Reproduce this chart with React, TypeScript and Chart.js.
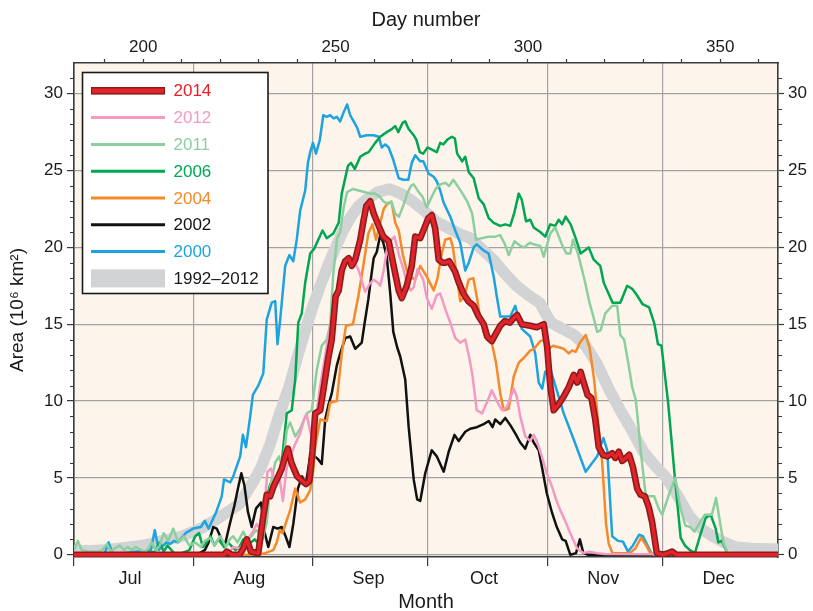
import React, { useEffect, useRef } from 'react';
import { Chart, registerables } from 'chart.js';

Chart.register(...registerables);

const FONT = '"Liberation Sans", Arial, Helvetica, sans-serif';
const INK = '#1a1a1a';
const AXIS = '#3a3a3a';
const GRID = '#a2a2a2';
const PLOT_BG = '#fdf5eb';

const RED = '#e3232a';
const RED_EDGE = '#8a1c1c';
const PINK = '#f49ac2';
const MINT = '#8ccf9f';
const GREEN = '#00a651';
const ORANGE = '#f6892a';
const BLACK = '#111111';
const BLUE = '#1ca3e0';
const BAND = '#d1d3d5';

const X_MIN = 182;
const X_MAX = 365;
const Y_MIN = -0.15;
const Y_MAX = 32;

const MONTH_STARTS = [182, 213, 244, 274, 305, 335];
const MONTH_LABELS = ['Jul', 'Aug', 'Sep', 'Oct', 'Nov', 'Dec'];
const DAY_TICKS = [190, 200, 210, 220, 230, 240, 250, 260, 270, 280, 290, 300, 310, 320, 330, 340, 350, 360];
const DAY_LABELS = [200, 250, 300, 350];
const AREA_TICKS = [0, 5, 10, 15, 20, 25, 30];
const AREA_MINOR = [1, 2, 3, 4, 6, 7, 8, 9, 11, 12, 13, 14, 16, 17, 18, 19, 21, 22, 23, 24, 26, 27, 28, 29, 31];

type P = [number, number];

// [day number, area (10^6 km^2)]
const Y2014: P[] = [[182,0],[221,0],[221.7,0.2],[223,0],[225,0],[226,0.4],[226.9,1.0],[228,0.2],[229.9,0.1],[231.2,2.5],[232.1,3.9],[233,3.8],[233.8,4.4],[235.1,5.1],[236,5.6],[236.8,6.3],[237.6,6.9],[238.5,6.0],[239.3,5.5],[240,5.1],[241.3,4.8],[242.3,4.6],[243.2,4.8],[244,6.8],[244.7,9.2],[246,9.4],[247,11.0],[248.1,12.8],[249,14.0],[250,16.8],[250.8,17.2],[251.6,18.5],[252.5,19.1],[253.4,19.3],[254.2,18.8],[255.1,19.2],[256.4,20.5],[257.3,21.8],[258,22.7],[259,23.0],[259.9,22.2],[261.2,21.4],[262.4,20.7],[263.8,20.4],[264.6,19.4],[265.5,18.3],[266.4,17.2],[267.2,16.7],[268.5,17.5],[269.8,18.8],[270.7,20.7],[272,20.6],[273.3,21.4],[274.1,21.9],[275,22.1],[275.9,21.2],[276.8,19.2],[277.8,19.0],[278.5,19.0],[279.5,19.1],[281.1,18.4],[281.9,17.8],[283.2,17.0],[284.5,16.5],[285.9,16.2],[287.2,15.5],[288.5,15.0],[289.4,14.2],[290.6,13.9],[291.7,14.4],[292.8,14.9],[294,15.2],[295.3,15.1],[296.3,15.4],[297.2,15.6],[298.4,15.0],[300.6,14.9],[302.3,14.8],[304.1,15.0],[305,13.5],[305.8,11.0],[306.7,9.4],[308,9.8],[309.3,10.3],[310.6,10.9],[311.9,11.7],[312.8,11.2],[313.7,11.9],[314.5,11.2],[315.5,10.4],[316.5,10.2],[317.5,8.8],[318.4,7.0],[319.5,6.5],[320.6,6.4],[321.9,6.6],[322.7,6.3],[323.6,6.7],[324.5,6.1],[325.5,6.3],[326.3,6.5],[327.3,5.7],[328.4,4.3],[329.3,3.9],[330.4,3.8],[331.4,3.1],[332.3,2.1],[333.5,0.1],[335,0],[336.5,0.1],[337.5,0.2],[338.5,0],[365,0]];

const Y2012: P[] = [[182,0],[222,0],[223.4,0.5],[225,0.4],[226.5,0.8],[228.5,1.5],[229.5,2.0],[230.5,1.6],[231.3,2.6],[232.3,5.4],[233.2,5.6],[234.4,4.7],[235.4,5.0],[236.3,3.5],[237.2,5.5],[238.2,6.4],[239.5,7.2],[240.8,7.9],[241.8,8.8],[242.5,9.1],[243.5,7.9],[244.3,7.5],[245.2,9.5],[246,11.0],[247,12.5],[248.1,14.2],[249.4,15.9],[250.5,17.0],[251.6,18.5],[252.8,19.0],[254.2,19.3],[255.2,18.9],[256,18.5],[257.7,17.1],[258.8,17.6],[259.9,17.9],[261,17.7],[261.6,17.5],[262.5,18.5],[263.3,19.8],[264.2,20.4],[265.3,20.7],[266.5,19.5],[267.6,18.6],[268.6,17.6],[269.5,17.2],[270.3,17.4],[271.3,18.6],[272.8,17.9],[273.7,16.7],[275,16.0],[276.3,16.9],[277.2,17.0],[278.5,16.0],[279.8,15.1],[281.1,14.1],[282.4,13.8],[283.7,14.0],[284.6,13.0],[285.5,11.8],[286.7,9.4],[288.1,9.2],[289.5,10.0],[290.6,10.7],[291.9,10.0],[293.3,9.4],[294.5,9.6],[296.3,10.8],[297.1,10.3],[298,9.0],[299.3,7.7],[300.6,7.4],[301.5,7.8],[302.3,7.4],[303.6,6.4],[304.9,5.3],[306.3,4.4],[307.3,3.6],[308.4,2.9],[309.5,2.3],[311,1.4],[312.8,0.4],[314.5,0.1],[316,0.2],[318,0.1],[320,0.05],[365,0]];

const Y2011: P[] = [[182,0.3],[183,0.9],[184,0.3],[186,0.2],[188,0.2],[189.4,0.3],[190.6,0.7],[191.5,0.2],[192.5,0.4],[193.9,0.6],[195,0.3],[196,0.5],[197,0.3],[198,0.5],[199.5,0.3],[200.5,0.2],[201.3,0.4],[202.2,0.8],[203.2,0.3],[204.3,0.6],[205.3,1.4],[206.5,0.9],[207.8,1.7],[209.1,0.8],[210.5,1.2],[212,0.6],[213.5,0.8],[215,0.5],[216,0.9],[217.4,1.1],[218.5,0.6],[220,1.2],[221.5,0.5],[222.5,1.0],[223.4,1.2],[224.5,0.8],[226,1.5],[227,1.0],[227.8,1.1],[229,1.5],[229.6,1.6],[231,1.0],[232.1,2.1],[233,4.4],[234.3,6.0],[235.3,6.4],[236.2,5.6],[237.3,8.1],[238.2,8.6],[239.5,7.7],[240.8,8.2],[242.5,9.2],[243.8,9.4],[245.1,12.0],[246.4,13.6],[247.7,14.0],[248.6,15.0],[249.4,18.3],[250.4,20.6],[251.2,21.0],[252.1,22.6],[253,23.6],[254.5,23.8],[256,23.7],[257.5,23.6],[259,23.5],[260.2,23.5],[261.5,23.3],[262.4,23.0],[263.6,22.8],[264.5,23.0],[265.5,22.2],[266.5,22.0],[267.7,22.8],[268.6,23.5],[269.6,24.0],[270.3,24.1],[271.6,23.6],[272.6,23.3],[273.7,22.6],[274.8,23.2],[276,23.8],[277.2,24.1],[278.5,24.2],[279.5,24.0],[280.6,24.4],[281.7,24.0],[283,23.5],[284.2,23.0],[285.5,22.2],[286.5,20.5],[288,20.6],[289.8,20.7],[291.5,20.7],[292.8,20.8],[294,20.2],[295,19.5],[296.5,20.4],[298,20.1],[299,20.0],[300.5,20.3],[301.5,20.2],[303.2,20.1],[304.1,19.4],[305.8,20.9],[307.1,21.3],[308.8,20.2],[310,19.6],[311,19.6],[311.7,20.5],[313,19.6],[314.8,17.8],[316,16.4],[317,15.5],[318,14.5],[318.9,14.6],[320.1,15.7],[321.9,16.2],[323.2,16.2],[324,14.3],[325,14.0],[326.2,12.3],[327.1,10.9],[328,10.1],[328.4,9.2],[329.3,6.8],[330.6,3.9],[331.5,3.8],[332.8,3.8],[334,3.0],[334.9,2.6],[336.5,3.8],[338.3,5.0],[339.5,3.2],[340.9,1.9],[342.2,1.8],[343.3,1.5],[344.5,2.0],[346,2.6],[347.8,2.6],[348.9,3.7],[350,2.0],[350.9,0.7],[351.8,0.2],[352.7,0],[365,0]];

const Y2006: P[] = [[182,0],[190,0.1],[200,0.1],[203,0.2],[204.3,0.8],[205.3,0.2],[206.3,0.6],[208,0.1],[210,0.1],[212,0.3],[213.5,1.2],[214.5,1.4],[215.5,0.5],[216.5,0.8],[217.5,1.2],[218.5,0.6],[219.5,1.0],[221,0.5],[222,0.8],[224,0.3],[225,0.5],[226,1.0],[227,0.6],[229,1.0],[230,0.7],[231,1.5],[232,3.6],[233,4.6],[234.7,4.9],[236,6.0],[237.3,9.2],[238.6,9.4],[239.5,11.4],[240.3,15.1],[241.2,15.7],[242.1,17.7],[243.4,19.6],[244.4,19.9],[245.5,20.5],[246.6,21.1],[247.7,20.6],[249.4,20.9],[250.8,21.6],[251.6,23.5],[253.2,25.3],[254,25.5],[255,25.1],[256.4,25.9],[257.7,26.1],[258.6,26.2],[260.3,26.8],[261.6,27.2],[263.3,27.5],[264.6,27.7],[265.5,27.9],[266.3,27.5],[267.4,28.1],[268.1,28.2],[269,27.7],[270.3,27.3],[271,27.0],[271.9,26.2],[272.8,26.1],[273.9,26.5],[274.8,26.4],[276.3,26.2],[277.2,26.8],[278,26.7],[279,27.0],[280.2,27.2],[281,27.1],[281.6,26.1],[282.9,25.6],[283.7,25.9],[284.6,24.9],[285.9,24.5],[287.2,23.2],[288.5,22.8],[289.8,21.9],[291.1,21.6],[292.8,21.4],[294.1,21.5],[295.4,21.4],[296.5,22.3],[297.6,23.5],[298.4,23.1],[299.5,21.7],[300.6,21.8],[301.5,21.3],[303.2,21.0],[304.5,20.7],[305.8,21.5],[307.1,21.4],[308,21.8],[308.9,21.5],[309.8,22.0],[311.1,21.5],[312.4,20.6],[313.7,19.6],[315.8,20.0],[317.1,19.2],[318.8,18.8],[319.7,17.7],[320.6,17.2],[322,16.4],[324,16.4],[325.8,17.5],[327.1,17.3],[328.3,16.9],[329.8,16.3],[331.5,16.1],[332.9,15.0],[333.8,13.7],[334.7,13.6],[336.4,10.0],[338.2,5.0],[339.7,1.1],[340.8,0.6],[342.1,0.3],[343.4,0.1],[344.7,1.2],[346.2,2.4],[347.5,2.6],[348.8,1.7],[349.5,0.8],[350.4,0.9],[351.3,0.4],[352,0],[365,0]];

const Y2004: P[] = [[182,0],[230,0],[231.7,0.1],[233.8,0.3],[234.7,0.8],[235.5,1.6],[236.2,1.4],[237,2.0],[238.2,2.9],[239.5,4.3],[240.8,3.4],[242.1,3.6],[243.4,4.2],[244.2,5.5],[244.7,7.0],[246,8.8],[247.7,8.7],[248.6,9.9],[250.3,10.0],[251.6,13.1],[252.7,14.9],[254.5,15.0],[255.9,16.8],[257.2,18.8],[258.5,20.9],[259.6,21.5],[260.5,20.5],[261.5,21.5],[262.5,22.5],[263.6,22.9],[264.6,22.9],[265.5,21.6],[266.4,21.1],[267.5,19.5],[268.5,18.5],[269.4,18.1],[270.7,17.9],[272,18.8],[273.7,18.1],[275.5,17.2],[276.5,18.0],[277.5,19.5],[278.5,20.5],[279.8,20.6],[280.5,20.0],[281.3,18.5],[282.4,16.5],[283.5,16.8],[284.6,17.9],[285.8,18.0],[286.7,16.8],[287.5,15.5],[288.5,14.5],[289.3,14.0],[290.6,13.8],[291.7,12.5],[292.8,10.5],[293.7,9.4],[295,9.5],[296.3,11.6],[297.6,12.5],[298.9,12.8],[300.6,13.3],[301.6,13.4],[303.2,13.9],[304.5,14.0],[305.5,13.4],[306.5,13.6],[308,13.5],[309.3,13.4],[310.6,13.1],[311.5,13.3],[312.4,13.2],[313.5,13.8],[315,14.3],[316,13.5],[317.2,11.4],[318.3,8.5],[319.3,6.0],[320.3,2.0],[321,0.7],[322,0.1],[326.5,0.1],[327.9,0.4],[329.4,1.1],[330.5,0.7],[331.8,0.1],[333,0],[365,0]];

const Y2002: P[] = [[182,0],[214,0],[216,0.3],[217,0.8],[218.2,1.8],[219.1,1.7],[220,1.2],[221.1,0.5],[222.5,2.0],[223.7,3.2],[224.7,4.4],[225.5,5.3],[226.3,4.5],[227.2,2.8],[228.2,1.8],[229.3,3.0],[230.6,3.4],[231.5,1.5],[232.5,0.5],[233.8,1.8],[234.9,1.7],[236,1.8],[237,1.2],[238,0.5],[239,2.0],[240.2,4.3],[241.3,5.1],[242.2,4.5],[243.4,6.4],[244.6,6.4],[245.5,6.2],[246.4,5.9],[247.3,8.8],[248.2,9.8],[249,10.5],[250.3,12.3],[251.2,13.1],[252.5,14.1],[253.8,14.2],[255.1,13.4],[256.8,13.8],[257.5,15.0],[258.5,16.6],[259.2,18.0],[259.9,19.3],[260.7,19.7],[261.6,20.8],[262.4,20.3],[263.3,19.4],[264.2,17.0],[265,14.5],[266,13.5],[266.8,12.9],[268.1,11.4],[269,8.3],[270.3,4.9],[271.2,3.6],[272,3.5],[273.3,5.3],[275,6.8],[276.3,6.4],[278.1,5.4],[279.4,6.7],[280.9,7.8],[282,7.4],[283.7,8.0],[285,8.2],[286.7,8.3],[288.5,8.5],[289.8,8.7],[290.8,8.3],[291.5,8.8],[292.8,8.5],[294.1,8.9],[295.5,8.4],[296.7,7.9],[298,7.3],[299.3,6.9],[300.6,7.8],[301.5,7.3],[302.8,6.8],[303.8,5.5],[304.9,4.0],[306.3,2.7],[307.5,1.8],[308.9,1.0],[309.8,0.9],[311,0],[312.5,0.1],[313.5,1.0],[314.4,0.1],[315.5,0],[365,0]];

const Y2000: P[] = [[182,0.1],[185,0.1],[188,0.1],[190,0.1],[191,0.8],[192,0.1],[195,0.1],[198,0.2],[200,0.2],[202,0.3],[203,1.6],[204,0.3],[206,0.8],[207,0.7],[208,0.9],[209,0.8],[211,1.4],[213,1.7],[215,1.8],[216,2.2],[217,1.7],[219,2.8],[220.4,3.8],[221,4.9],[222.6,4.7],[223.4,5.1],[225.2,6.4],[225.9,7.8],[226.7,7.0],[227.8,9.0],[228.5,10.4],[229.9,11.0],[231.2,11.8],[232.1,15.3],[233.4,16.4],[234.3,16.5],[234.9,13.7],[235.6,15.3],[236.9,18.8],[238,19.5],[239,19.1],[239.9,20.5],[240.8,22.4],[242.1,23.7],[242.8,25.5],[243.4,26.2],[244.1,26.8],[244.9,26.1],[245.9,27.0],[246.8,28.6],[247.7,28.5],[248.6,28.6],[249.5,28.4],[250.3,28.5],[251.2,28.2],[252.1,28.8],[253,29.3],[253.8,28.6],[254.7,28.2],[255.6,27.8],[256.4,27.2],[258.1,27.3],[259.9,27.3],[261.2,27.2],[262,26.5],[262.9,26.7],[263.8,26.5],[265,25.7],[266.4,24.5],[267.6,24.4],[268.9,24.4],[269.8,25.5],[270.7,26.0],[272,25.6],[272.8,25.6],[274.2,24.8],[275.5,24.6],[276.3,24.3],[277.2,23.7],[278.1,22.9],[279.8,22.0],[281.1,21.1],[282.4,20.3],[283.7,18.5],[284.6,19.0],[285.9,20.0],[286.7,20.2],[288.5,19.8],[289.8,19.6],[291.1,18.1],[291.9,16.8],[292.8,15.5],[295.4,15.5],[296.7,16.2],[297.6,15.3],[298.4,14.7],[300.6,14.2],[301.9,13.1],[302.8,11.2],[303.7,10.8],[304.5,11.9],[305.8,12.1],[309.3,9.2],[311.9,7.5],[315,5.4],[318,6.4],[319.6,7.6],[320.6,6.8],[321.9,1.2],[323.4,0.9],[324.7,0.85],[326,0.2],[327.3,0.6],[328.9,1.3],[329.9,1.2],[331.3,0.5],[332.3,0],[365,0]];

const BAND_1992_2012: P[] = [[182,0.25],[186,0.25],[190,0.3],[195,0.45],[200,0.6],[205,0.9],[210,1.2],[215,1.7],[219,2.3],[222,2.8],[225,3.3],[228,4.5],[230.5,5.6],[233,7.2],[235.5,9.2],[238,11.0],[240,12.8],[242,14.5],[244,16.1],[246,17.5],[248,18.8],[250,20.0],[252,21.1],[254,22.0],[256,22.7],[258,23.1],[261,23.6],[264,23.8],[267,23.5],[270,23.0],[273,22.4],[276,21.7],[279,21.3],[282,20.9],[285,20.6],[288,19.9],[291,19.2],[294,18.3],[297,17.5],[300,16.9],[303,16.4],[306,15.1],[309,14.7],[312,14.3],[315,13.6],[318,12.4],[321,10.8],[324,9.4],[327,8.1],[330,6.7],[333,5.8],[336,5.0],[339,3.8],[342,2.5],[345,1.7],[348,1.2],[351,0.8],[354,0.5],[358,0.4],[365,0.35]];

type LegendItem = { label: string; line: string; text: string; kind: 'edged' | 'line' | 'band' };
const LEGEND_ITEMS: LegendItem[] = [
  { label: '2014', line: RED, text: '#ec1c24', kind: 'edged' },
  { label: '2012', line: PINK, text: PINK, kind: 'line' },
  { label: '2011', line: MINT, text: MINT, kind: 'line' },
  { label: '2006', line: GREEN, text: GREEN, kind: 'line' },
  { label: '2004', line: ORANGE, text: ORANGE, kind: 'line' },
  { label: '2002', line: BLACK, text: BLACK, kind: 'line' },
  { label: '2000', line: BLUE, text: BLUE, kind: 'line' },
  { label: '1992\u20132012', line: BAND, text: INK, kind: 'band' },
];

const pts = (a: P[]) => a.map(([x, y]) => ({ x, y }));

const plotBackground = {
  id: 'plotBackground',
  beforeDraw(chart: any) {
    const { ctx, chartArea: a } = chart;
    ctx.save();
    ctx.fillStyle = PLOT_BG;
    ctx.fillRect(a.left, a.top, a.right - a.left, a.bottom - a.top);
    ctx.restore();
  },
};

const minorTicks = {
  id: 'minorTicks',
  afterDraw(chart: any) {
    const { ctx, chartArea: a } = chart;
    const ys = chart.scales.y;
    ctx.save();
    ctx.strokeStyle = AXIS;
    ctx.lineWidth = 1.2;
    ctx.beginPath();
    AREA_MINOR.forEach((v) => {
      const py = Math.round(ys.getPixelForValue(v)) + 0.5;
      ctx.moveTo(a.left - 4, py);
      ctx.lineTo(a.left, py);
      ctx.moveTo(a.right, py);
      ctx.lineTo(a.right + 4, py);
    });
    ctx.stroke();
    ctx.restore();
  },
};

const boxLegend = {
  id: 'boxLegend',
  afterDraw(chart: any) {
    const { ctx, chartArea: a } = chart;
    const x0 = a.left + 8.5;
    const y0 = a.top + 9.5;
    const w = 185.5;
    const h = 221;
    ctx.save();
    ctx.fillStyle = '#ffffff';
    ctx.fillRect(x0, y0, w, h);
    ctx.strokeStyle = INK;
    ctx.lineWidth = 1.6;
    ctx.strokeRect(x0, y0, w, h);
    const sx0 = x0 + 8.5;
    const sx1 = x0 + 82.5;
    const tx = x0 + 91;
    ctx.font = `17px ${FONT}`;
    ctx.textBaseline = 'middle';
    ctx.textAlign = 'left';
    LEGEND_ITEMS.forEach((it, i) => {
      const cy = y0 + 18.3 + i * 26.8;
      if (it.kind === 'band') {
        ctx.fillStyle = it.line;
        ctx.fillRect(sx0, cy - 9, sx1 - sx0, 18);
      } else if (it.kind === 'edged') {
        ctx.fillStyle = RED_EDGE;
        ctx.fillRect(sx0, cy - 3.8, sx1 - sx0, 7.6);
        ctx.fillStyle = it.line;
        ctx.fillRect(sx0 + 1.2, cy - 2.3, sx1 - sx0 - 2.4, 4.6);
      } else {
        ctx.strokeStyle = it.line;
        ctx.lineWidth = 3;
        ctx.beginPath();
        ctx.moveTo(sx0, cy);
        ctx.lineTo(sx1, cy);
        ctx.stroke();
      }
      ctx.fillStyle = it.text;
      ctx.fillText(it.label, tx, cy + 1);
    });
    ctx.restore();
  },
};

export default function App() {
  const ref = useRef<HTMLCanvasElement | null>(null);

  useEffect(() => {
    document.body.style.margin = '0';
    const canvas = ref.current;
    if (!canvas) return;
    Chart.defaults.font.family = FONT;
    Chart.defaults.color = INK;

    const line = (label: string, data: P[], color: string, width: number, order: number) => ({
      label,
      data: pts(data),
      borderColor: color,
      backgroundColor: color,
      borderWidth: width,
      order,
      pointRadius: 0,
      tension: 0,
      fill: false,
      borderJoinStyle: 'round' as const,
      borderCapStyle: 'round' as const,
    });

    const chart = new Chart(canvas, {
      type: 'line',
      data: {
        datasets: [
          line('2014', Y2014, RED, 3.4, 0),
          line('2014 edge', Y2014, RED_EDGE, 6.6, 1),
          line('2012', Y2012, PINK, 2.5, 2),
          line('2011', Y2011, MINT, 2.5, 3),
          line('2006', Y2006, GREEN, 2.5, 4),
          line('2004', Y2004, ORANGE, 2.5, 5),
          line('2002', Y2002, BLACK, 2.5, 6),
          line('2000', Y2000, BLUE, 2.5, 7),
          line('1992\u20132012', BAND_1992_2012, BAND, 11.5, 8),
        ] as any,
      },
      options: {
        responsive: false,
        animation: false,
        events: [],
        layout: { padding: 0 },
        plugins: { legend: { display: false }, tooltip: { enabled: false } },
        scales: {
          x: {
            type: 'linear',
            position: 'bottom',
            min: X_MIN,
            max: X_MAX,
            afterBuildTicks: (s: any) => { s.ticks = MONTH_STARTS.map((v) => ({ value: v })); },
            afterFit: (s: any) => { s.height = 54; },
            grid: { color: GRID, lineWidth: 1.2, tickLength: 9, tickColor: AXIS, tickWidth: 1.2 },
            border: { display: true, color: AXIS, width: 1.6 },
            ticks: {
              autoSkip: false,
              maxRotation: 0,
              minRotation: 0,
              padding: 2,
              labelOffset: 56,
              color: INK,
              font: { size: 18, family: FONT },
              callback: (v: any) => MONTH_LABELS[MONTH_STARTS.indexOf(Number(v))] ?? '',
            },
            title: { display: true, text: 'Month', color: INK, font: { size: 20, family: FONT }, padding: { top: 0, bottom: -3 } },
          },
          xTop: {
            type: 'linear',
            position: 'top',
            min: X_MIN,
            max: X_MAX,
            afterBuildTicks: (s: any) => { s.ticks = DAY_TICKS.map((v) => ({ value: v })); },
            afterFit: (s: any) => { s.height = 63; },
            grid: { drawOnChartArea: false, tickLength: 4, tickColor: AXIS, tickWidth: 1.2 },
            border: { display: true, color: AXIS, width: 1.6 },
            ticks: {
              autoSkip: false,
              maxRotation: 0,
              minRotation: 0,
              padding: 1,
              color: INK,
              font: { size: 17, family: FONT },
              callback: (v: any) => (DAY_LABELS.includes(Number(v)) ? String(v) : ''),
            },
            title: { display: true, text: 'Day number', color: INK, font: { size: 20, family: FONT }, padding: { top: 8, bottom: 0 } },
          },
          y: {
            type: 'linear',
            position: 'left',
            min: Y_MIN,
            max: Y_MAX,
            afterBuildTicks: (s: any) => { s.ticks = AREA_TICKS.map((v) => ({ value: v })); },
            afterFit: (s: any) => { s.width = 74; },
            grid: { color: GRID, lineWidth: 1.2, tickLength: 7, tickColor: AXIS, tickWidth: 1.2 },
            border: { display: true, color: AXIS, width: 1.6 },
            ticks: { autoSkip: false, padding: 4, color: INK, font: { size: 17, family: FONT } },
            title: { display: true, text: 'Area (10\u2076 km\u00b2)', color: INK, font: { size: 19, family: FONT }, padding: { top: 6, bottom: 0 } },
          },
          yRight: {
            type: 'linear',
            position: 'right',
            min: Y_MIN,
            max: Y_MAX,
            afterBuildTicks: (s: any) => { s.ticks = AREA_TICKS.map((v) => ({ value: v })); },
            afterFit: (s: any) => { s.width = 35; },
            grid: { drawOnChartArea: false, tickLength: 6, tickColor: AXIS, tickWidth: 1.2 },
            border: { display: true, color: AXIS, width: 1.6 },
            ticks: { autoSkip: false, padding: 4, color: INK, font: { size: 17, family: FONT } },
          },
        } as any,
      },
      plugins: [plotBackground, minorTicks, boxLegend],
    });

    return () => chart.destroy();
  }, []);

  return (
    <div style={{ position: 'absolute', left: 0, top: 0, width: 813, height: 611, background: '#ffffff' }}>
      <canvas ref={ref} width={813} height={611} style={{ display: 'block' }} />
    </div>
  );
}
